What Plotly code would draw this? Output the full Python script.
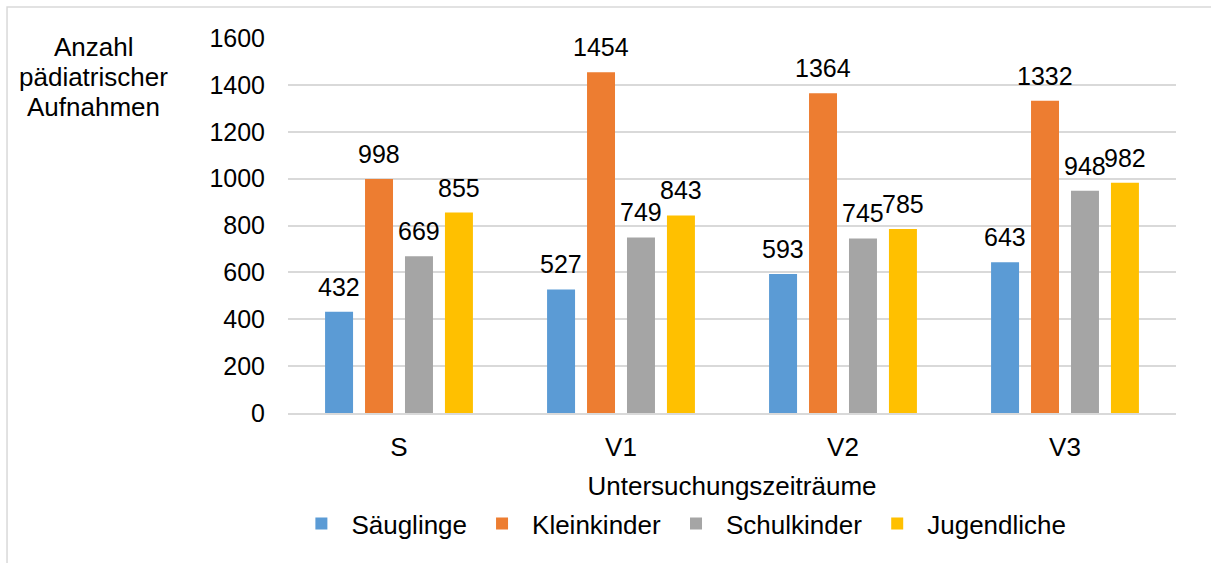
import plotly.graph_objects as go

categories = ["S", "V1", "V2", "V3"]
series_names = ["Säuglinge", "Kleinkinder", "Schulkinder", "Jugendliche"]
saeuglinge = [432, 527, 593, 643]
kleinkinder = [998, 1454, 1364, 1332]
schulkinder = [669, 749, 745, 948]
jugendliche = [855, 843, 785, 982]
y_ticks = [0, 200, 400, 600, 800, 1000, 1200, 1400, 1600]

colors = ["#5B9BD5", "#ED7D31", "#A5A5A5", "#FFC000"]
font = "Liberation Sans, Arial, sans-serif"

W, H = 1211, 563
ML, MR, MT, MB = 288, 35, 38, 150
plot_w = W - ML - MR
bargap, bargroupgap = 0.28, 0.3
n_series = 4
slot_px = plot_w / len(categories) * (1 - bargap) / n_series

fig = go.Figure()
all_series = [saeuglinge, kleinkinder, schulkinder, jugendliche]
for i, (name, vals, col) in enumerate(zip(series_names, all_series, colors)):
    fig.add_trace(go.Bar(x=categories, y=vals, name=name, marker_color=col,
                         marker_line_width=0))
    offset = (i - (n_series - 1) / 2) * slot_px
    for c, v in zip(categories, vals):
        fig.add_annotation(x=c, y=v, xref="x", yref="y", text=str(v),
                           showarrow=False, xanchor="center", yanchor="bottom",
                           xshift=offset, yshift=9,
                           font=dict(size=25, family=font, color="#000000"))

fig.update_layout(
    width=W, height=H,
    margin=dict(l=ML, r=MR, t=MT, b=MB, autoexpand=False),
    paper_bgcolor="white", plot_bgcolor="white",
    barmode="group", bargap=bargap, bargroupgap=bargroupgap,
    font=dict(family=font, size=25, color="#000000"),
    xaxis=dict(
        showgrid=False, showline=True, linecolor="#D9D9D9", linewidth=2,
        ticks="", tickfont=dict(size=26), automargin=False, ticklabelstandoff=10,
        title=dict(text="Untersuchungszeiträume", font=dict(size=26), standoff=16),
    ),
    yaxis=dict(
        range=[0, 1600], tickvals=y_ticks, showgrid=True, gridcolor="#D9D9D9",
        gridwidth=1.5, zeroline=False, showline=False, ticks="",
        tickfont=dict(size=25), ticklabelstandoff=22, automargin=False,
    ),
    legend=dict(
        orientation="h", x=0.443, xanchor="center", y=-0.295, yanchor="middle",
        font=dict(size=26), itemwidth=50, traceorder="normal",
    ),
    showlegend=True,
)

title_lines = ["Anzahl", "pädiatrischer", "Aufnahmen"]
for k, line in enumerate(title_lines):
    fig.add_annotation(
        text=line, xref="paper", yref="paper",
        x=-0.219, y=0.976 - k * 0.08, xanchor="center", yanchor="middle",
        showarrow=False, font=dict(size=26, family=font),
    )

fig.add_shape(
    type="rect", xref="paper", yref="paper",
    x0=-0.3164, x1=1.06, y0=-0.45, y1=1.0827,
    line=dict(color="#D9D9D9", width=1.5), fillcolor="rgba(0,0,0,0)", layer="below",
)

fig.write_html("out.html", config={"displayModeBar": False},
               post_script="document.body.style.margin='0';")
